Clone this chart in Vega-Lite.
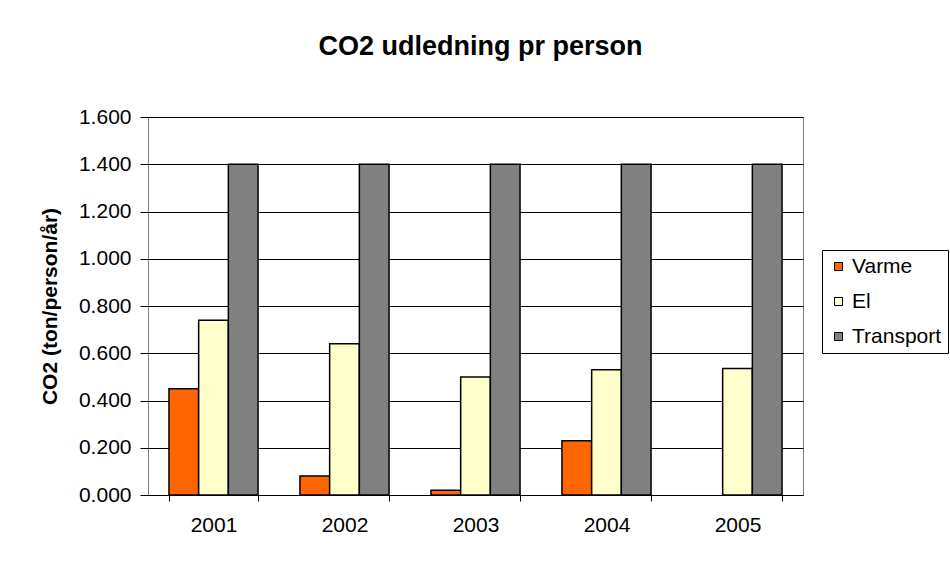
{
  "$schema": "https://vega.github.io/schema/vega-lite/v6.json",
  "width": 655,
  "height": 378,
  "autosize": {"type": "none"},
  "padding": {"left": 148, "top": 117, "right": 147, "bottom": 68},
  "background": "white",
  "title": {"text": "CO2 udledning pr person", "font": "Liberation Sans", "fontSize": 27, "fontWeight": "bold", "color": "black", "anchor": "middle", "frame": "group", "offset": 45, "dx": 5},
  "data": {"values": [
    {"year": "2001", "series": "Varme", "value": 0.45},
    {"year": "2001", "series": "El", "value": 0.74},
    {"year": "2001", "series": "Transport", "value": 1.4},
    {"year": "2002", "series": "Varme", "value": 0.08},
    {"year": "2002", "series": "El", "value": 0.64},
    {"year": "2002", "series": "Transport", "value": 1.4},
    {"year": "2003", "series": "Varme", "value": 0.02},
    {"year": "2003", "series": "El", "value": 0.5},
    {"year": "2003", "series": "Transport", "value": 1.4},
    {"year": "2004", "series": "Varme", "value": 0.23},
    {"year": "2004", "series": "El", "value": 0.53},
    {"year": "2004", "series": "Transport", "value": 1.4},
    {"year": "2005", "series": "El", "value": 0.535},
    {"year": "2005", "series": "Transport", "value": 1.4}
  ]},
  "mark": {"type": "bar", "stroke": "black", "strokeWidth": 1.5},
  "encoding": {
    "x": {"field": "year", "type": "nominal",
      "scale": {"paddingInner": 0.32, "paddingOuter": 0.16},
      "axis": {"title": null, "labelAngle": 0, "tickBand": "extent", "tickColor": "black", "domainColor": "black", "tickSize": 6, "labelPadding": 13, "labelFontSize": 21, "labelFont": "Liberation Sans", "labelColor": "black", "grid": false}},
    "xOffset": {"field": "series", "type": "nominal", "sort": ["Varme", "El", "Transport"], "scale": {"domain": ["Varme", "El", "Transport"], "paddingInner": 0}},
    "y": {"field": "value", "type": "quantitative",
      "scale": {"domain": [0, 1.6], "nice": false},
      "axis": {"values": [0, 0.2, 0.4, 0.6, 0.8, 1.0, 1.2, 1.4, 1.6], "format": ".3f", "title": "CO2 (ton/person/år)", "titleFont": "Liberation Sans", "titleFontSize": 21, "titleFontWeight": "bold", "titleColor": "black", "titlePadding": 18, "labelFont": "Liberation Sans", "labelFontSize": 21, "labelColor": "black", "labelPadding": 9, "tickColor": "black", "tickSize": 8, "domain": false, "gridColor": "black", "gridWidth": 1}},
    "color": {"field": "series", "type": "nominal",
      "scale": {"domain": ["Varme", "El", "Transport"], "range": ["#FF6600", "#FFFFCC", "#808080"]},
      "legend": {"title": null, "orient": "none", "legendX": 674, "legendY": 133, "strokeColor": "black", "padding": 6, "symbolType": "square", "symbolSize": 64, "symbolStrokeColor": "black", "symbolStrokeWidth": 1, "symbolOpacity": 1, "labelFont": "Liberation Sans", "labelFontSize": 21, "labelColor": "black", "rowPadding": 13, "labelOffset": 3}}
  },
  "config": {"view": {"stroke": "#808080", "strokeWidth": 1}}
}
